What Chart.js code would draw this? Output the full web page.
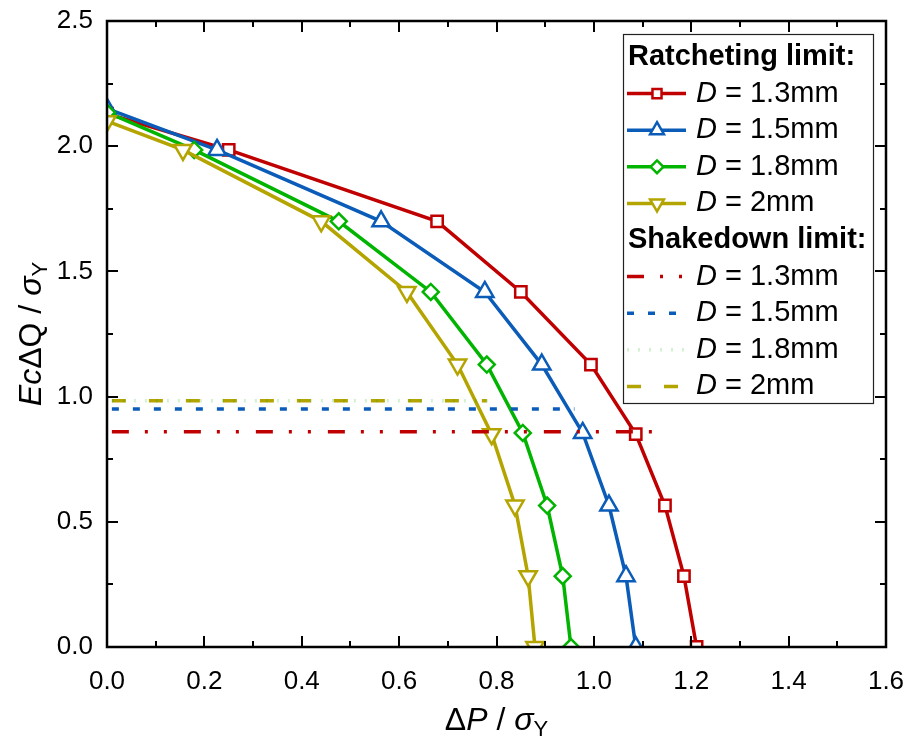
<!DOCTYPE html>
<html>
<head>
<meta charset="utf-8">
<script src="https://cdn.jsdelivr.net/npm/chart.js@4.4.1/dist/chart.umd.min.js"></script>
<style>
  html, body { margin: 0; padding: 0; background: #fff; }
  #wrap { width: 907px; height: 746px; }
</style>
</head>
<body>
<div id="wrap"><canvas id="myChart" width="907" height="746"></canvas></div>
<script>
// Ratcheting limit, one pair of arrays per diameter (x = dP/sY, y = EcdQ/sY)
const ratchetP13 = [0.0, 0.25, 0.678, 0.85, 0.994, 1.086, 1.146, 1.185, 1.211];
const ratchetQ13 = [2.13, 1.985, 1.70, 1.418, 1.128, 0.85, 0.565, 0.283, 0];
const ratchetP15 = [0.0, 0.226, 0.563, 0.776, 0.893, 0.977, 1.031, 1.066, 1.086];
const ratchetQ15 = [2.15, 1.985, 1.70, 1.418, 1.128, 0.855, 0.565, 0.283, 0];
const ratchetP18 = [0.0, 0.179, 0.476, 0.665, 0.78, 0.854, 0.904, 0.936, 0.953];
const ratchetQ18 = [2.135, 1.985, 1.70, 1.418, 1.128, 0.855, 0.565, 0.283, 0];
const ratchetP20 = [0.0, 0.156, 0.44, 0.616, 0.72, 0.79, 0.838, 0.865, 0.879];
const ratchetQ20 = [2.10, 1.985, 1.70, 1.418, 1.128, 0.85, 0.565, 0.283, 0];

// Shakedown limit: constant level, drawn from start to end of dP range
const shakeP13 = [0.01, 1.12];
const shakeQ13 = [0.86, 0.86];
const shakeP15 = [0.01, 0.96];
const shakeQ15 = [0.95, 0.95];
const shakeP18 = [0.01, 0.80];
const shakeQ18 = [0.983, 0.983];
const shakeP20 = [0.01, 0.78];
const shakeQ20 = [0.983, 0.983];

const diameters = ['1.3mm', '1.5mm', '1.8mm', '2mm'];
const xTickValues = [0, 0.2, 0.4, 0.6, 0.8, 1.0, 1.2, 1.4, 1.6];
const yTickValues = [0, 0.5, 1.0, 1.5, 2.0, 2.5];

const RED = '#c00000', BLUE = '#0b5cb8', GREEN = '#00b400', OLIVE = '#b4a400';
const FONT = '"Liberation Sans", Arial, sans-serif';

const pts = (xs, ys) => xs.map((v, i) => ({ x: v, y: ys[i] }));

const ratchetSet = (label, xs, ys, color, style, rot, r, order) => ({
  label, data: pts(xs, ys), borderColor: color, backgroundColor: '#fff',
  borderWidth: 3.5, pointStyle: style, pointRotation: rot, pointRadius: r,
  pointBorderWidth: 2.5, pointBackgroundColor: '#fff', pointBorderColor: color,
  showLine: true, clip: 0, order, group: 'ratchet'
});
const shakeSet = (label, xs, ys, color, dash, width) => ({
  label, data: pts(xs, ys), borderColor: color, borderWidth: width,
  borderDash: dash, pointRadius: 0, showLine: true, clip: 0, order: -1,
  group: 'shake'
});

const datasets = [
  ratchetSet(diameters[0], ratchetP13, ratchetQ13, RED, 'rect', 0, 8, 4),
  ratchetSet(diameters[1], ratchetP15, ratchetQ15, BLUE, 'triangle', 0, 10, 3),
  ratchetSet(diameters[2], ratchetP18, ratchetQ18, GREEN, 'rectRot', 0, 8, 2),
  ratchetSet(diameters[3], ratchetP20, ratchetQ20, OLIVE, 'triangle', 180, 10, 1),
  shakeSet(diameters[0], shakeP13, shakeQ13, RED, [17, 16, 3, 16, 3, 17], 3.5),
  shakeSet(diameters[1], shakeP15, shakeQ15, BLUE, [7, 14], 3.5),
  shakeSet(diameters[2], shakeP18, shakeQ18, 'rgba(0,180,0,0.18)', [2, 9], 3.5),
  shakeSet(diameters[3], shakeP20, shakeQ20, OLIVE, [14, 23], 3.5)
];

// box frame with inward major/minor ticks on all four sides
const frameTicks = {
  id: 'frameTicks',
  afterDatasetsDraw(chart) {
    const { ctx, chartArea: a, scales: { x, y } } = chart;
    ctx.save();
    ctx.strokeStyle = '#000';
    ctx.lineWidth = 2;
    const seg = (x1, y1, x2, y2) => { ctx.beginPath(); ctx.moveTo(x1, y1); ctx.lineTo(x2, y2); ctx.stroke(); };
    for (let i = 0; i <= 16; i++) {
      const px = Math.round(x.getPixelForValue(i * 0.1));
      const len = i % 2 === 0 ? 11 : 6;
      seg(px, a.bottom, px, a.bottom - len);
      seg(px, a.top, px, a.top + len);
    }
    for (let i = 0; i <= 10; i++) {
      const py = Math.round(y.getPixelForValue(i * 0.25));
      const len = i % 2 === 0 ? 11 : 6;
      seg(a.left, py, a.left + len, py);
      seg(a.right, py, a.right - len, py);
    }
    ctx.lineWidth = 2.5;
    ctx.strokeRect(a.left, a.top, a.right - a.left, a.bottom - a.top);
    ctx.restore();
  }
};

// draws a run of text pieces with their own font styles
function drawRuns(ctx, runs, x, y, align) {
  const widths = runs.map(r => { ctx.font = r.font; return ctx.measureText(r.text).width; });
  const total = widths.reduce((s, w) => s + w, 0);
  let cx = align === 'center' ? x - total / 2 : x;
  runs.forEach((r, i) => {
    ctx.font = r.font;
    ctx.fillText(r.text, cx, y + (r.dy || 0));
    cx += widths[i];
  });
}

const axisTitles = {
  id: 'axisTitles',
  afterDraw(chart) {
    const { ctx, chartArea: a } = chart;
    ctx.save();
    ctx.fillStyle = '#000';
    ctx.textAlign = 'left';
    ctx.textBaseline = 'alphabetic';
    const s = 32;
    const reg = `${s}px ${FONT}`, ita = `italic ${s}px ${FONT}`, sub = `${Math.round(s * 0.7)}px ${FONT}`;
    drawRuns(ctx, [
      { text: '\u0394', font: reg }, { text: 'P', font: ita }, { text: ' / ', font: reg },
      { text: '\u03C3', font: ita }, { text: 'Y', font: sub, dy: 6 }
    ], (a.left + a.right) / 2, 730, 'center');
    ctx.translate(41, (a.top + a.bottom) / 2);
    ctx.rotate(-Math.PI / 2);
    drawRuns(ctx, [
      { text: 'Ec', font: ita }, { text: '\u0394Q', font: reg }, { text: ' / ', font: reg },
      { text: '\u03C3', font: ita }, { text: 'Y', font: sub, dy: 6 }
    ], 0, 0, 'center');
    ctx.restore();
  }
};

const legendBox = {
  id: 'legendBox',
  afterDraw(chart) {
    const { ctx } = chart;
    const left = 623, top = 34, right = 873, bottom = 403;
    ctx.save();
    ctx.fillStyle = '#fff';
    ctx.fillRect(left, top, right - left, bottom - top);
    ctx.strokeStyle = '#222';
    ctx.lineWidth = 1.2;
    ctx.strokeRect(left + 0.5, top + 0.5, right - left, bottom - top);

    const rowH = 36.6;
    const fs = 29;
    let row = 0;
    const rowY = () => top + 23 + row * rowH;
    ctx.textBaseline = 'middle';
    ctx.fillStyle = '#000';
    const header = (t) => {
      ctx.font = `bold ${fs}px ${FONT}`;
      ctx.fillStyle = '#000';
      ctx.fillText(t, 628, rowY());
      row++;
    };
    const item = (ds) => {
      const cy = rowY();
      ctx.save();
      ctx.strokeStyle = ds.borderColor;
      ctx.lineWidth = ds.borderWidth;
      ctx.setLineDash(ds.borderDash || []);
      ctx.beginPath(); ctx.moveTo(627, cy); ctx.lineTo(686, cy); ctx.stroke();
      ctx.setLineDash([]);
      if (ds.pointRadius > 0) {
        ctx.fillStyle = '#fff';
        ctx.strokeStyle = ds.pointBorderColor;
        ctx.lineWidth = ds.pointBorderWidth;
        Chart.helpers.drawPoint(ctx, {
          pointStyle: ds.pointStyle, rotation: ds.pointRotation,
          radius: ds.pointRadius * 0.8, borderWidth: ds.pointBorderWidth
        }, 657, cy);
      }
      ctx.restore();
      ctx.fillStyle = '#000';
      drawRuns(ctx, [
        { text: 'D', font: `italic ${fs}px ${FONT}` },
        { text: ' = ' + ds.label, font: `${fs}px ${FONT}` }
      ], 696, cy, 'left');
      row++;
    };
    header('Ratcheting limit:');
    chart.data.datasets.filter(d => d.group === 'ratchet').forEach(item);
    header('Shakedown limit:');
    chart.data.datasets.filter(d => d.group === 'shake').forEach(item);
    ctx.restore();
  }
};

new Chart(document.getElementById('myChart'), {
  type: 'scatter',
  data: { datasets },
  options: {
    responsive: false,
    devicePixelRatio: 1,
    animation: false,
    layout: { padding: { left: 0, top: 21, right: 21, bottom: 0 } },
    plugins: { legend: { display: false }, tooltip: { enabled: false } },
    scales: {
      x: {
        type: 'linear', min: 0, max: 1.6,
        grid: { display: false, drawTicks: false }, border: { display: false },
        afterBuildTicks: s => { s.ticks = xTickValues.map(v => ({ value: v })); },
        afterFit: s => { s.height = 99; s.paddingLeft = 0; s.paddingRight = 0; },
        ticks: { color: '#000', padding: 19, font: { family: FONT, size: 26 }, callback: v => v.toFixed(1) }
      },
      y: {
        type: 'linear', min: 0, max: 2.5,
        grid: { display: false, drawTicks: false }, border: { display: false },
        afterBuildTicks: s => { s.ticks = yTickValues.map(v => ({ value: v })); },
        afterFit: s => { s.width = 107; s.paddingTop = 0; s.paddingBottom = 0; },
        ticks: { color: '#000', padding: 14, font: { family: FONT, size: 26 }, callback: v => v.toFixed(1) }
      }
    }
  },
  plugins: [frameTicks, axisTitles, legendBox]
});
</script>
</body>
</html>
